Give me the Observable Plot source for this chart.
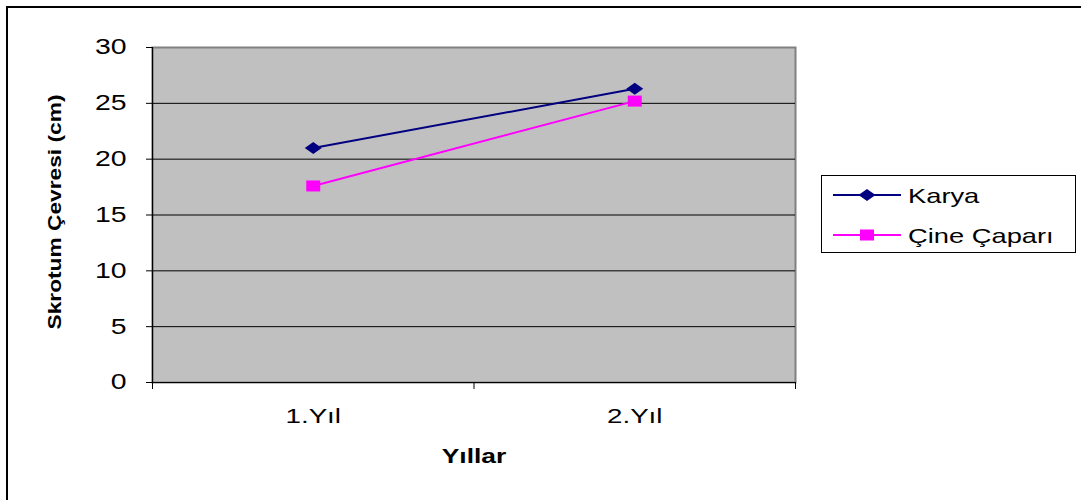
<!DOCTYPE html>
<html>
<head>
<meta charset="utf-8">
<script src="https://cdn.jsdelivr.net/npm/d3@7"></script>
<script src="https://cdn.jsdelivr.net/npm/@observablehq/plot@0.6"></script>
<style>
  body { margin: 0; background: #fff; font-family: "Liberation Sans", Arial, sans-serif; }
  #wrap { position: relative; width: 1081px; height: 500px; overflow: hidden; }
  #border { position: absolute; left: 6px; top: 6px; width: 1200px; height: 700px; border: 2px solid #000; box-sizing: border-box; }
  #chart { position: absolute; left: 0; top: 0; }
  #legend { position: absolute; left: 821px; top: 175px; width: 255px; height: 78px; border: 1px solid #000; box-sizing: border-box; background: #fff; }
</style>
</head>
<body>
<div id="wrap">
  <div id="border"></div>
  <div id="chart"></div>
  <div id="legend"></div>
</div>
<script>
const categories = ["1.Yıl", "2.Yıl"];
const karya = [21.0, 26.3];
const cineCapari = [17.6, 25.2];
const seriesNames = ["Karya", "Çine Çaparı"];
const seriesColors = ["#000080", "#FF00FF"];
const yTicks = [0, 5, 10, 15, 20, 25, 30];
const xTitle = "Yıllar";
const yTitle = "Skrotum Çevresi (cm)";

const wideDiamond = {draw(ctx) { ctx.moveTo(-8.5, 0); ctx.lineTo(0, -6); ctx.lineTo(8.5, 0); ctx.lineTo(0, 6); ctx.closePath(); }};
const wideSquare = {draw(ctx) { ctx.rect(-7, -5.5, 14, 11); }};
const seriesSymbols = [wideDiamond, wideSquare];

const seriesValues = [karya, cineCapari];
const data = [];
seriesNames.forEach((s, si) => {
  categories.forEach((c, i) => {
    data.push({series: s, cat: c, pos: i + 0.5, value: seriesValues[si][i]});
  });
});

const chart = Plot.plot({
  width: 1081,
  height: 500,
  marginLeft: 152,
  marginRight: 286,
  marginTop: 47,
  marginBottom: 118,
  style: {fontFamily: "'Liberation Sans', Arial, sans-serif", color: "#000", background: "transparent"},
  x: {domain: [0, categories.length]},
  y: {domain: [0, 30]},
  color: {domain: seriesNames, range: seriesColors},
  symbol: {domain: seriesNames, range: seriesSymbols},
  marks: [
    Plot.frame({fill: "#c0c0c0", stroke: "#808080", strokeWidth: 2}),
    Plot.ruleY(yTicks.filter(t => t > 0 && t < 30), {stroke: "#000", strokeWidth: 1}),
    Plot.ruleX([0], {stroke: "#000", strokeWidth: 1.2}),
    Plot.ruleY([0], {stroke: "#000", strokeWidth: 1.2}),
    Plot.axisY({ticks: yTicks, tickSize: 6, tickPadding: 20, fontSize: 21.5, label: null}),
    Plot.axisX({ticks: d3.range(categories.length + 1), tickSize: 7, tickFormat: () => "", label: null}),
    Plot.axisX({ticks: categories.map((c, i) => i + 0.5), tickSize: 0, tickPadding: 26, fontSize: 21,
                tickFormat: d => categories[Math.floor(d)], label: null}),
    Plot.line(data, {x: "pos", y: "value", z: "series", stroke: "series", strokeWidth: 2}),
    Plot.dot(data, {x: "pos", y: "value", fill: "series", symbol: "series", r: 6, stroke: "none"}),
    Plot.text([xTitle], {frameAnchor: "bottom", dy: 80, text: d => d, fontWeight: "bold", fontSize: 20, fill: "#000"}),
    Plot.text([yTitle], {frameAnchor: "bottom-left", dx: -92, dy: -53, rotate: -90, textAnchor: "start",
                         text: d => d, fontWeight: "bold", fontSize: 19, fill: "#000"})
  ]
});
document.getElementById("chart").appendChild(chart);

function stretch(t, f) {
  const w = t.getComputedTextLength();
  if (w > 0) { t.setAttribute("textLength", (w * f).toFixed(1)); t.setAttribute("lengthAdjust", "spacingAndGlyphs"); }
}
chart.querySelectorAll("text").forEach(t => {
  if (t.textContent === yTitle) { t.setAttribute("textLength", "235"); t.setAttribute("lengthAdjust", "spacingAndGlyphs"); }
  else stretch(t, 1.32);
});

// Legend
const lg = d3.select("#legend").append("svg").attr("width", 253).attr("height", 76)
  .style("font-family", "'Liberation Sans', Arial, sans-serif");
seriesNames.forEach((s, i) => {
  const y = [19, 59][i];
  const g = lg.append("g").attr("transform", `translate(0,${y})`);
  g.append("line").attr("x1", 11).attr("x2", 79).attr("stroke", seriesColors[i]).attr("stroke-width", 2);
  g.append("path").attr("transform", "translate(45,0)").attr("d", d3.symbol(seriesSymbols[i])()).attr("fill", seriesColors[i]);
  g.append("text").attr("x", 86).attr("dy", "0.36em").attr("font-size", 21).attr("fill", "#000").text(s);
});
lg.selectAll("text").each(function() { stretch(this, 1.3); });
</script>
</body>
</html>
